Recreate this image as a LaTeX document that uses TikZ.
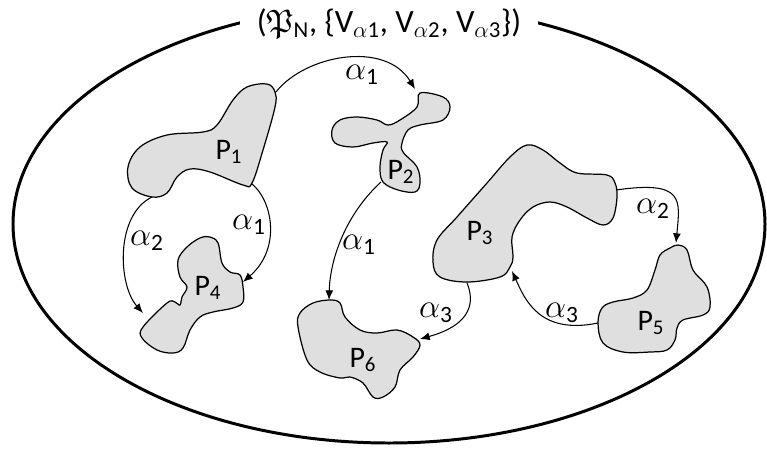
\RequirePackage{fix-cm}
\documentclass[tikz,border=0pt]{standalone}
\usepackage{amssymb}
\usepackage{fontspec}
\setmainfont{Carlito}
\usetikzlibrary{arrows.meta}

\tikzset{
  blob/.style={draw=black, line width=0.7pt, fill=gray!25},
  trans/.style={line width=0.6pt, -{Latex[length=5.5pt,width=4.5pt]}},
  lbl/.style={font=\fontsize{17}{20}\selectfont, inner sep=1pt},
  albox/.style={font=\fontsize{19}{22}\selectfont, inner sep=1pt}
}
\newcommand{\albl}[1]{$\alpha$\textsubscript{#1}}

\begin{document}
\begin{tikzpicture}[x=0.02cm, y=-0.02cm, every node/.style={lbl}]
\useasboundingbox (0,0) rectangle (767,450);

% the net
\draw [line width=1.7pt] (389,224) ellipse [x radius=376, y radius=219];
\node (title) at (389,24) [fill=white, minimum width=5.95cm, minimum height=0.9cm, inner sep=0pt, font=\fontsize{18.5}{22}\selectfont]
  {($\mathfrak{P}$\textsubscript{N}, \{V\textsubscript{$\alpha$1}, V\textsubscript{$\alpha$2}, V\textsubscript{$\alpha$3}\})};

% places
\begin{scope}[smooth cycle, tension=0.6]
\draw [blob] plot coordinates {(275,92) (267,84) (247,87) (233,100) (217,125) (203,132) (167,135) (140,147) (128,167) (132,188) (152,197) (167,193) (177,177) (190,169) (210,172) (243,185) (252,183) (263,150) (275,107)};
\draw [blob] plot coordinates {(420,93) (443,97) (450,107) (443,120) (420,125) (408,130) (402,143) (403,152) (417,167) (420,183) (415,192) (398,190) (383,182) (380,167) (383,150) (387,142) (373,143) (353,147) (335,143) (332,130) (340,120) (357,117) (377,120) (388,125) (400,120) (417,107)};
\draw [blob] plot coordinates {(527,145) (543,150) (560,163) (577,173) (607,175) (615,183) (617,197) (613,218) (603,225) (587,218) (567,207) (550,202) (533,207) (520,220) (512,237) (513,257) (510,267) (500,277) (467,282) (440,277) (433,262) (437,240) (457,217) (487,183) (510,157)};
\draw [blob] plot coordinates {(210,237) (218,243) (222,263) (230,272) (240,275) (243,287) (243,302) (233,308) (213,312) (200,317) (190,330) (183,348) (173,353) (157,350) (142,338) (143,327) (167,303) (175,302) (180,305) (182,297) (187,287) (180,277) (178,260) (187,247) (200,238)};
\draw [blob] plot coordinates {(678,245) (687,250) (693,270) (707,287) (710,307) (703,315) (683,320) (677,328) (675,340) (667,350) (650,352) (623,352) (603,343) (598,323) (602,308) (613,302) (633,298) (647,290) (655,270) (660,255) (670,248)};
\draw [blob] plot coordinates {(330,300) (340,303) (345,317) (360,330) (377,333) (397,330) (413,337) (420,345) (413,357) (400,370) (395,387) (383,397) (373,397) (363,383) (350,377) (340,378) (320,372) (307,360) (298,327) (300,313) (313,303)};
\end{scope}

\node (p1) at (229,152) {P\textsubscript{1}};
\node (p2) at (401,172) {P\textsubscript{2}};
\node (p3) at (480,233) {P\textsubscript{3}};
\node (p4) at (208,288) {P\textsubscript{4}};
\node (p5) at (651,323) {P\textsubscript{5}};
\node (p6) at (363,360) {P\textsubscript{6}};

% ends of the arcs on the borders
\coordinate (p1ne) at (276,92);
\coordinate (p1se) at (252,184);
\coordinate (p1s)  at (152,197);
\coordinate (p2n)  at (415,89);
\coordinate (p2sw) at (381,182);
\coordinate (p3e)  at (616,190);
\coordinate (p3s)  at (467,283);
\coordinate (p3se) at (512,271);
\coordinate (p4e)  at (243,282);
\coordinate (p4w)  at (143,313);
\coordinate (p5n)  at (676,243);
\coordinate (p5w)  at (598,323);
\coordinate (p6n)  at (329,300);
\coordinate (p6e)  at (420,339);

% transitions
\begin{scope}[trans]
\draw (p1ne) .. controls (305,55) and (385,40) .. (p2n);
\draw (p1se) .. controls (272,200) and (282,248) .. (p4e);
\draw (p1s) .. controls (115,215) and (118,285) .. (p4w);
\draw (p2sw) .. controls (345,215) and (330,260) .. (p6n);
\draw (p3s) .. controls (474,300) and (474,324) .. (p6e);
\draw (p5w) .. controls (540,335) and (525,300) .. (p3se);
\draw (p3e) .. controls (685,180) and (680,200) .. (p5n);
\end{scope}

\begin{scope}[every node/.style={albox}]
\node (a12) at (362,75) {\albl{1}};
\node (a14) at (249,225) {\albl{1}};
\node (a24) at (147,241) {\albl{2}};
\node (a26) at (359,245) {\albl{1}};
\node (a36) at (436,313) {\albl{3}};
\node (a53) at (562,313) {\albl{3}};
\node (a35) at (653,209) {\albl{2}};
\end{scope}

\end{tikzpicture}
\end{document}
